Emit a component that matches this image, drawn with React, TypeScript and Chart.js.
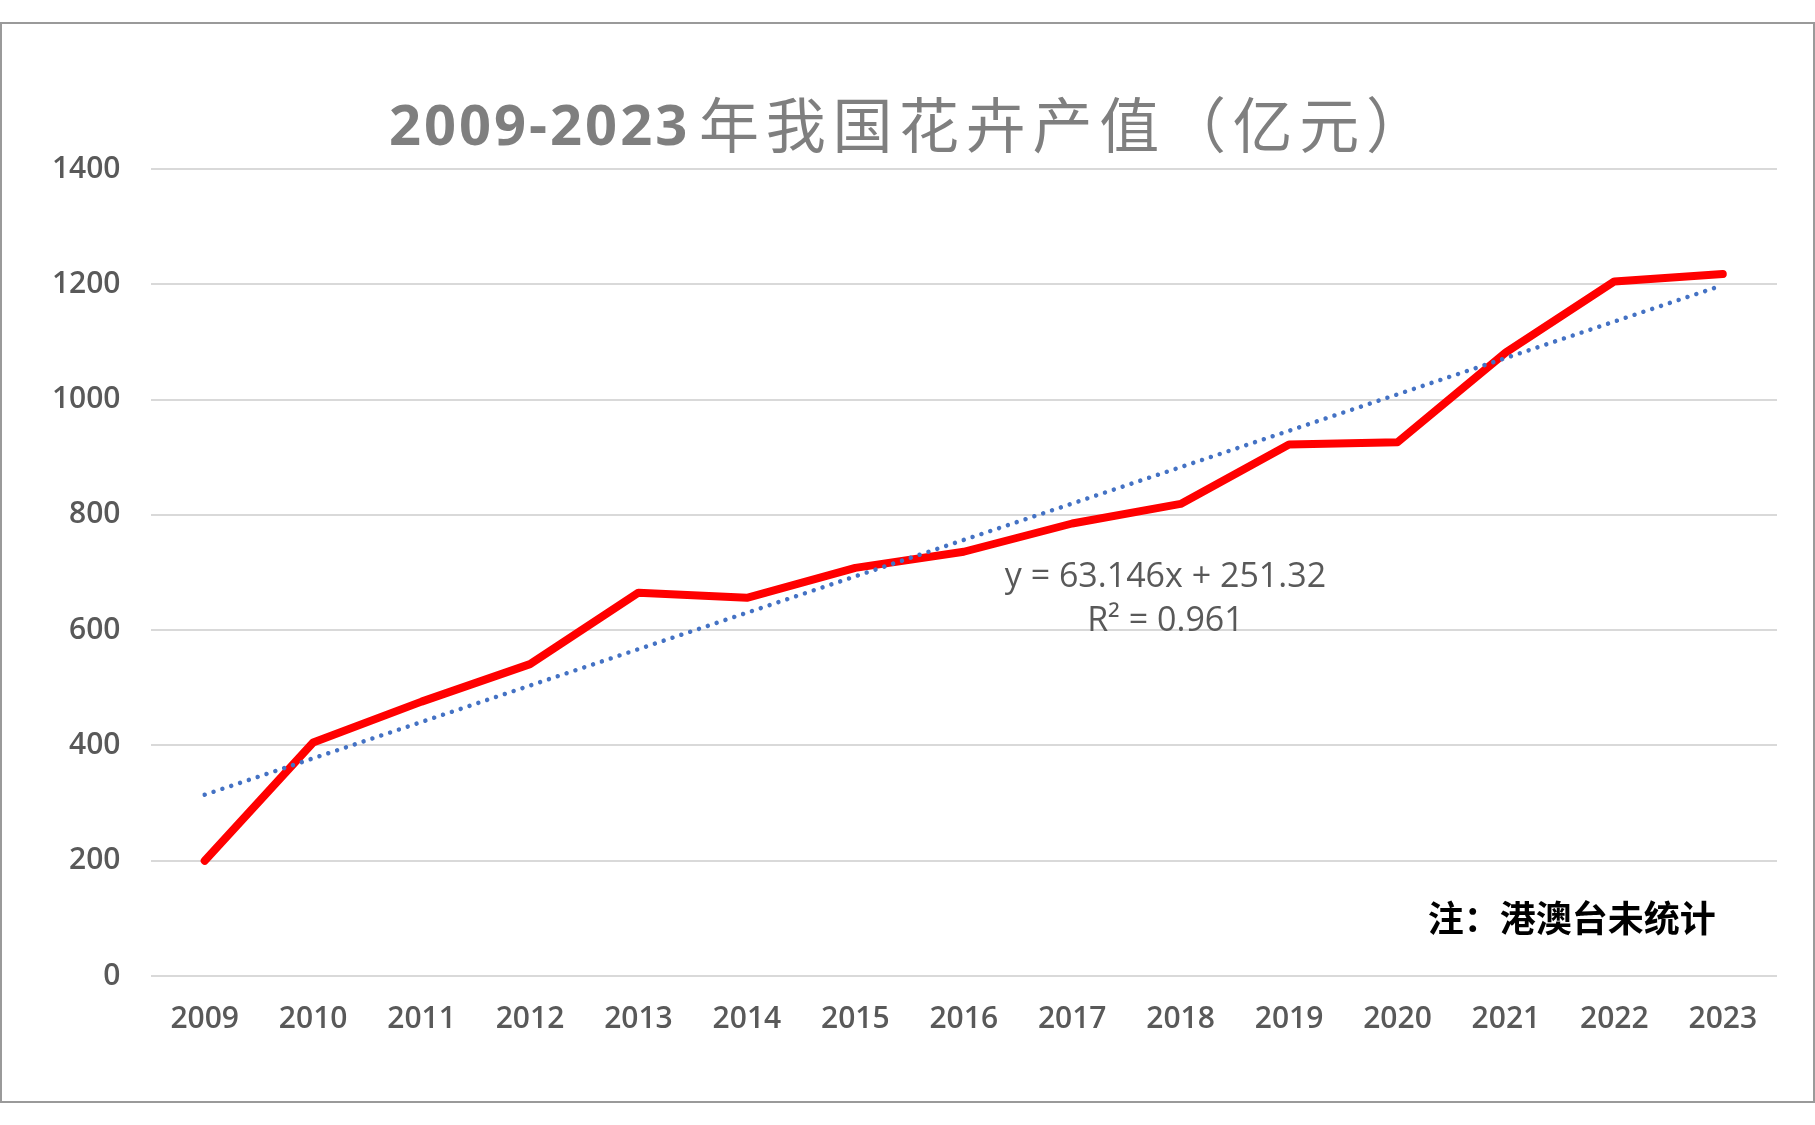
import React, { useEffect, useRef } from "react";
import { Chart, registerables } from "chart.js";

Chart.register(...registerables);

// ---- data ----
const YEARS = ["2009", "2010", "2011", "2012", "2013", "2014", "2015", "2016", "2017", "2018", "2019", "2020", "2021", "2022", "2023"];
const OUTPUT_VALUES = [200, 405, 476, 541, 665, 656, 708, 736, 785, 819, 922, 926, 1082, 1205, 1218];
const TREND_SLOPE = 63.146;
const TREND_INTERCEPT = 251.32;
const TREND_LABEL = "y = 63.146x + 251.32";
const R2_LABEL = "R² = 0.961";
const Y_MIN = 0;
const Y_MAX = 1400;
const Y_STEP = 200;
const TITLE_NUM = "2009-2023";
const TITLE_CJK = "年我国花卉产值（亿元）";
const NOTE = "注：港澳台未统计";

const TREND_VALUES = YEARS.map((_, i) => TREND_INTERCEPT + TREND_SLOPE * (i + 1));

const TICK_FONT = { family: "'Open Sans', sans-serif", size: 30, weight: 600 as any };

const textPlugin = {
  id: "textOverlay",
  afterDraw(chart: any) {
    const ctx = chart.ctx as CanvasRenderingContext2D;
    ctx.save();
    // Title
    ctx.fillStyle = "#7f7f7f";
    ctx.textAlign = "left";
    ctx.textBaseline = "alphabetic";
    ctx.font = "bold 56px 'Open Sans', sans-serif";
    (ctx as any).letterSpacing = "3px";
    ctx.fillText(TITLE_NUM, 389, 145);
    (ctx as any).letterSpacing = "0px";
    ctx.font = "400 60px 'Noto Sans CJK SC', sans-serif";
    const chars = Array.from(TITLE_CJK);
    chars.forEach((c, i) => {
      ctx.fillText(c, 699 + i * 66.7, 148);
    });

    // Trendline equation
    const xs = chart.scales.x;
    const ys = chart.scales.y;
    ctx.font = "500 34px 'Open Sans', sans-serif";
    ctx.fillStyle = "#595959";
    ctx.textAlign = "center";
    const ex = xs.getPixelForValue(8.86);
    ctx.fillText(TREND_LABEL, ex, ys.getPixelForValue(675));
    ctx.fillText(R2_LABEL, ex, ys.getPixelForValue(599));

    // Note
    ctx.font = "bold 36px 'Noto Sans CJK SC', sans-serif";
    ctx.fillStyle = "#000000";
    ctx.textAlign = "left";
    ctx.fillText(NOTE, xs.getPixelForValue(11.28), ys.getPixelForValue(76));
    ctx.restore();
  },
};

export default function App() {
  const ref = useRef<HTMLCanvasElement | null>(null);
  useEffect(() => {
    if (!ref.current) return;
    const chart = new Chart(ref.current, {
      type: "line",
      data: {
        labels: YEARS,
        datasets: [
          {
            label: "趋势线",
            data: TREND_VALUES,
            borderColor: "#4472c4",
            borderWidth: 4.5,
            borderDash: [0.01, 9.3],
            borderCapStyle: "round",
            pointRadius: 0,
            tension: 0,
            fill: false,
          },
          {
            label: "花卉产值",
            data: OUTPUT_VALUES,
            borderColor: "#ff0000",
            borderWidth: 8,
            borderCapStyle: "round",
            borderJoinStyle: "round",
            pointRadius: 0,
            tension: 0,
            fill: false,
          },
        ],
      },
      options: {
        animation: false,
        responsive: true,
        maintainAspectRatio: false,
        layout: { padding: { left: 0, right: 38, top: 169, bottom: 0 } },
        plugins: {
          legend: { display: false },
          tooltip: { enabled: false },
          title: { display: false },
        },
        scales: {
          x: {
            offset: true,
            grid: { display: false, drawTicks: false },
            border: { display: false },
            ticks: { font: TICK_FONT, color: "#595959", padding: 25, maxRotation: 0, autoSkip: false },
            afterFit: (s: any) => {
              s.height = 149;
            },
          },
          y: {
            min: Y_MIN,
            max: Y_MAX,
            grid: { color: "#d9d9d9", lineWidth: 2, drawTicks: false },
            border: { display: false },
            ticks: {
              stepSize: Y_STEP,
              font: TICK_FONT,
              color: "#595959",
              padding: 30,
              callback: (v: any) => String(v),
            },
            afterFit: (s: any) => {
              s.width = 150.5;
            },
          },
        },
      },
      plugins: [textPlugin],
    });
    return () => chart.destroy();
  }, []);

  return (
    <div style={{ position: "absolute", left: 0, top: 0, width: 1815, height: 1125, background: "#fff" }}>
      <div
        style={{
          position: "absolute",
          left: 0,
          top: 22,
          width: 1815,
          height: 1081,
          boxSizing: "border-box",
          border: "2px solid #9a9a9a",
        }}
      />
      <div style={{ position: "absolute", left: 0, top: 0, width: 1815, height: 1125 }}>
        <canvas ref={ref} />
      </div>
    </div>
  );
}
